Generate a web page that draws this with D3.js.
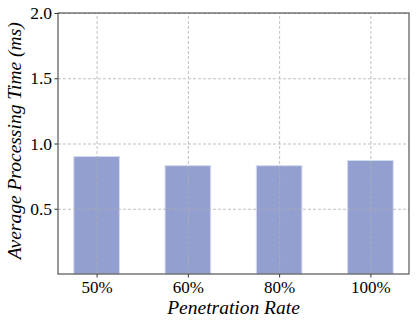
<!DOCTYPE html>
<html>
<head>
<meta charset="utf-8">
<script src="https://cdn.jsdelivr.net/npm/d3@7"></script>
<style>
body { margin: 0; background: #fff; }
svg { display: block; }
text { font-family: "Liberation Serif", "Times New Roman", Tinos, "DejaVu Serif", serif; }
.grid line { stroke: #b0b0b0; stroke-dasharray: 3,2; stroke-width: 0.8; }
.grid path { display: none; }
</style>
</head>
<body>
<div class="graph"></div>
<script>
var categories = ["50%", "60%", "80%", "100%"];
var values = [0.90, 0.83, 0.83, 0.87];
var yTicks = [0.5, 1.0, 1.5, 2.0];

var serif = "'Liberation Serif', 'Times New Roman', Tinos, 'DejaVu Serif', serif";

var margin = {top: 13, right: 7, bottom: 52, left: 58},
    width = 416 - margin.left - margin.right,
    height = 326 - margin.top - margin.bottom;

var svg = d3.select(".graph").append("svg")
    .attr("width", width + margin.left + margin.right)
    .attr("height", height + margin.top + margin.bottom)
    .append("g")
    .attr("transform", "translate(" + margin.left + "," + margin.top + ")");

// x as index scale, like matplotlib with its default margins
var xScale = d3.scaleLinear().domain([-0.423, categories.length - 1 + 0.423]).range([0, width]);
var yScale = d3.scaleLinear().domain([0, 2]).range([height, 0]);
var barWidth = 0.5;

svg.selectAll(".bar")
    .data(values)
    .enter()
    .append("rect")
    .attr("class", "bar")
    .attr("x", function(d, i) { return xScale(i - barWidth / 2); })
    .attr("width", xScale(barWidth) - xScale(0))
    .attr("y", function(d) { return yScale(d); })
    .attr("height", function(d) { return height - yScale(d); })
    .attr("fill", "#929fcf")
    .attr("stroke", "#d4dbef")
    .attr("stroke-width", 1);

// gridlines drawn above the bars
svg.append("g")
    .attr("class", "grid")
    .attr("transform", "translate(0," + height + ")")
    .call(d3.axisBottom(xScale).tickValues(d3.range(categories.length)).tickSize(-height).tickFormat(""));

svg.append("g")
    .attr("class", "grid")
    .call(d3.axisLeft(yScale).tickValues(yTicks).tickSize(-width).tickFormat(""));

// axes
var xAxis = svg.append("g")
    .attr("class", "x axis")
    .attr("transform", "translate(0," + height + ")")
    .call(d3.axisBottom(xScale).tickValues(d3.range(categories.length)).tickSize(3.5).tickPadding(3.5)
        .tickFormat(function(d) { return categories[d]; }));
xAxis.select(".domain").remove();
xAxis.attr("font-family", serif).attr("font-size", 17);
xAxis.selectAll("text").attr("fill", "#000");
xAxis.selectAll(".tick line").attr("stroke", "#333");

var yAxis = svg.append("g")
    .attr("class", "y axis")
    .call(d3.axisLeft(yScale).tickValues(yTicks).tickSize(3.5).tickPadding(2.5)
        .tickFormat(d3.format(".1f")));
yAxis.select(".domain").remove();
yAxis.attr("font-family", serif).attr("font-size", 17.5);
yAxis.selectAll("text").attr("fill", "#000");
yAxis.selectAll(".tick line").attr("stroke", "#333");

// frame
svg.append("rect")
    .attr("width", width)
    .attr("height", height)
    .attr("fill", "none")
    .attr("stroke", "#555")
    .attr("stroke-width", 1.2);

// labels
svg.append("text")
    .attr("text-anchor", "middle")
    .attr("transform", "translate(-37," + (height / 2 - 2.7) + ")rotate(-90)")
    .attr("font-family", serif)
    .attr("font-style", "italic")
    .attr("font-size", 19.5)
    .text("Average Processing Time (ms)");

svg.append("text")
    .attr("text-anchor", "middle")
    .attr("x", width / 2)
    .attr("y", height + 40)
    .attr("font-family", serif)
    .attr("font-style", "italic")
    .attr("font-size", 19.5)
    .text("Penetration Rate");
</script>
</body>
</html>
